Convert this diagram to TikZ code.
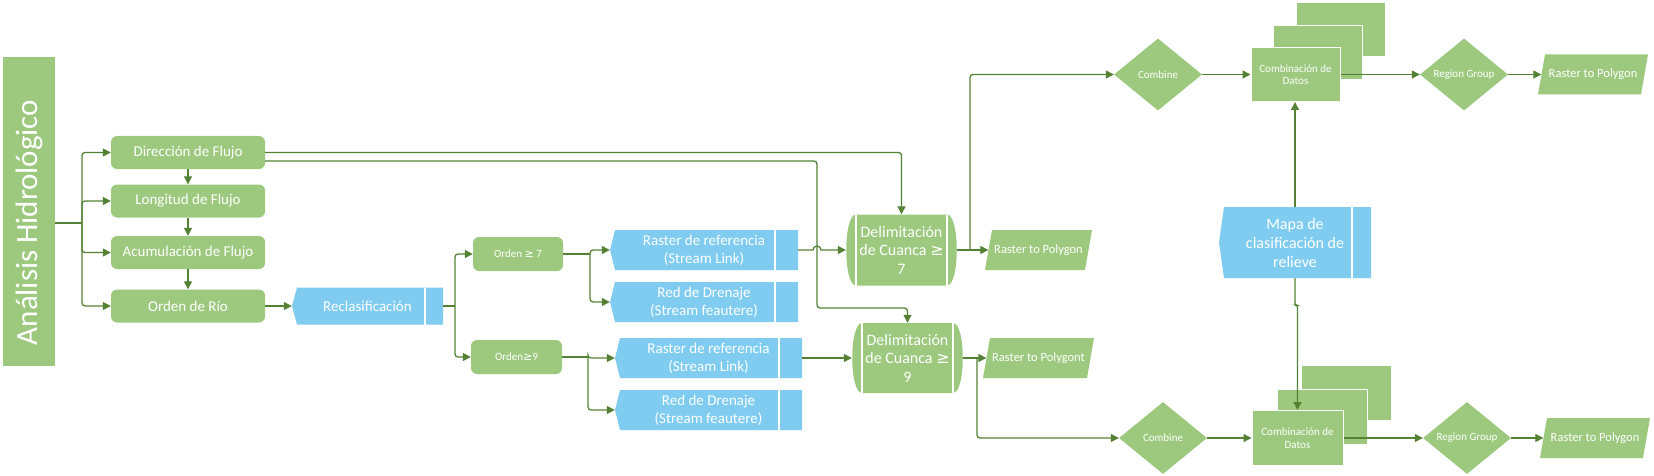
\documentclass[tikz,border=0pt]{standalone}
\usepackage{fontspec}
\usepackage{graphicx}
\setmainfont{Carlito}
\newfontfamily\symf{DejaVu Sans}
\usetikzlibrary{arrows.meta,shapes.geometric,calc}
\definecolor{gfill}{HTML}{9DC97F}
\definecolor{bfill}{HTML}{80CCF0}
\definecolor{lcol}{HTML}{548235}
\newcommand{\gsym}{{\symf ≥}}
\tikzset{
  gbox/.style={rectangle, rounded corners=6pt, fill=gfill, text=white, inner sep=0pt, align=center},
  bluebox/.style={rectangle, inner sep=0pt, text=white, align=center,
    path picture={
      \fill[bfill] ($(path picture bounding box.north west)+(5pt,0pt)$) -- (path picture bounding box.north east)
        -- (path picture bounding box.south east) -- ($(path picture bounding box.south west)+(5pt,0pt)$)
        -- (path picture bounding box.west) -- cycle;
      \draw[white, line width=1.2pt] ($(path picture bounding box.north east)+(-#1,0pt)$) -- ($(path picture bounding box.south east)+(-#1,0pt)$);
    }},
  delimbox/.style={rectangle, inner sep=0pt, text=white, align=center,
    font=\fontsize{16}{18.5}\selectfont,
    path picture={
      \fill[gfill] ($(path picture bounding box.north west)+(10pt,0pt)$) -- ($(path picture bounding box.north east)+(-10pt,0pt)$)
        .. controls ($(path picture bounding box.north east)+(3pt,0pt)$) and ($(path picture bounding box.south east)+(3pt,0pt)$) ..
        ($(path picture bounding box.south east)+(-10pt,0pt)$) -- ($(path picture bounding box.south west)+(10pt,0pt)$)
        .. controls ($(path picture bounding box.south west)+(-3pt,0pt)$) and ($(path picture bounding box.north west)+(-3pt,0pt)$) ..
        ($(path picture bounding box.north west)+(10pt,0pt)$) -- cycle;
      \draw[white, line width=1.2pt] ($(path picture bounding box.north west)+(10pt,0pt)$) -- ($(path picture bounding box.south west)+(10pt,0pt)$);
      \draw[white, line width=1.2pt] ($(path picture bounding box.north east)+(-10pt,0pt)$) -- ($(path picture bounding box.south east)+(-10pt,0pt)$);
    }},
  parabox/.style={rectangle, inner sep=0pt, text=white, align=center,
    font=\fontsize{12.5}{15}\selectfont,
    path picture={
      \fill[gfill] (path picture bounding box.south west) -- ($(path picture bounding box.north west)+(7pt,0pt)$)
        -- (path picture bounding box.north east) -- ($(path picture bounding box.south east)+(-7pt,0pt)$) -- cycle;
    }},
  diam/.style={diamond, fill=gfill, text=white, inner sep=0pt, aspect=1.2,
    minimum width=88pt, minimum height=72pt, font=\fontsize{11}{13}\selectfont},
  stackbox/.style={rectangle, fill=gfill, draw=white, line width=1pt, text=white, inner sep=0pt,
    align=center, font=\fontsize{11}{12.5}\selectfont},
  conn/.style={draw=lcol, line width=1.3pt, rounded corners=3pt},
  arr/.style={conn, -{Triangle[length=8pt,width=8pt]}}
}
\begin{document}
\begin{tikzpicture}[x=1pt, y=-1pt, font=\fontsize{15}{18}\selectfont]
\useasboundingbox (0,0) rectangle (1654,476);

% left bar
\node[fill=gfill, text=white, minimum width=52pt, minimum height=309pt, inner sep=0pt,
      font=\fontsize{31}{36}\selectfont] (bar) at (29,211.5)
      {\rotatebox{90}{Análisis Hidrológico\hspace*{22pt}}};

% green process boxes
\node[gbox, minimum width=154pt, minimum height=33pt] (dir) at (188,152.5) {Dirección de Flujo};
\node[gbox, minimum width=154pt, minimum height=33pt] (long) at (188,201) {Longitud de Flujo};
\node[gbox, minimum width=154pt, minimum height=33pt] (acum) at (188,252.5) {Acumulación de Flujo};
\node[gbox, minimum width=154pt, minimum height=33pt] (orden) at (188,306) {Orden de Río};

% blue boxes
\node[bluebox=18pt, minimum width=151pt, minimum height=37pt] (recl) at (367.5,306) {Reclasificación};
\node[gbox, minimum width=90pt, minimum height=34pt, font=\fontsize{11}{13}\selectfont] (o7) at (518,254) {Orden \gsym\ 7};
\node[gbox, minimum width=91pt, minimum height=34pt, font=\fontsize{11}{13}\selectfont] (o9) at (516.5,357) {Orden\gsym 9};

\node[bluebox=23pt, minimum width=188pt, minimum height=40pt] (r1) at (704,250) {Raster de referencia\\(Stream Link)};
\node[bluebox=23pt, minimum width=188pt, minimum height=40pt] (red1) at (704,302) {Red de Drenaje\\(Stream feautere)};
\node[bluebox=23pt, minimum width=187pt, minimum height=40pt] (r2) at (708.5,358) {Raster de referencia\\(Stream Link)};
\node[bluebox=23pt, minimum width=187pt, minimum height=40pt] (red2) at (708.5,410) {Red de Drenaje\\(Stream feautere)};

% delimitation
\node[delimbox, minimum width=111pt, minimum height=71pt] (d7) at (901.5,250) {Delimitación\\de Cuanca \gsym\\7};
\node[delimbox, minimum width=111pt, minimum height=70pt] (d9) at (907.5,358) {Delimitación\\de Cuanca \gsym\\9};

% raster to polygon
\node[parabox, minimum width=107pt, minimum height=40pt] (rtp1) at (1038.5,250) {Raster to Polygon};
\node[parabox, minimum width=111pt, minimum height=40pt] (rtp2) at (1038.5,358) {Raster to Polygont};
\node[parabox, minimum width=110pt, minimum height=40pt] (rtp3) at (1593,74.5) {Raster to Polygon};
\node[parabox, minimum width=110pt, minimum height=40pt] (rtp4) at (1595,438) {Raster to Polygon};

% diamonds
\node[diam] (comb1) at (1158,74.5) {Combine};
\node[diam] (rg1) at (1464,74.5) {Region Group};
\node[diam] (comb2) at (1163,438) {Combine};
\node[diam] (rg2) at (1467,438) {Region Group};

% stacked data boxes
\node[stackbox, minimum width=89pt, minimum height=54pt] (cd1b) at (1340.5,29.5) {};
\node[stackbox, minimum width=89pt, minimum height=54pt] (cd1a) at (1317.5,52.5) {};
\node[stackbox, minimum width=89pt, minimum height=54pt] (cd1) at (1295.5,74.5) {Combinación de\\Datos};
\node[stackbox, minimum width=90pt, minimum height=55pt] (cd2b) at (1346.5,393) {};
\node[stackbox, minimum width=90pt, minimum height=55pt] (cd2a) at (1322.5,417) {};
\node[stackbox, minimum width=91pt, minimum height=55pt] (cd2) at (1297.5,438) {Combinación de\\Datos};

% relief map
\node[bluebox=19pt, minimum width=152pt, minimum height=71pt, font=\fontsize{16}{19}\selectfont] (mapa) at (1295,242.5) {Mapa de\\clasificación de\\relieve};

% ---------- connectors ----------
\coordinate (j0) at (82,223);
\draw[conn] (bar.east |- j0) -- (j0);
\draw[arr] (j0) |- (dir.west);
\draw[arr] (j0) |- (long.west);
\draw[arr] (j0) |- (acum.west);
\draw[arr] (j0) |- (orden.west);
\draw[arr] (dir.south) -- (long.north);
\draw[arr] (long.south) -- (acum.north);
\draw[arr] (acum.south) -- (orden.north);
\draw[arr] (orden.east) -- (recl.west);

\coordinate (jr) at (455,306);
\draw[conn] (recl.east) -- (jr);
\draw[arr] (jr) |- (o7.west);
\draw[arr] (jr) |- (o9.west);

\coordinate (j7) at (590,254);
\draw[conn] (o7.east) -- (j7);
\draw[arr] (j7) |- (r1.west);
\draw[arr] (j7) |- (red1.west);

\coordinate (j9) at (588,357);
\draw[conn] (o9.east) -- (j9);
\draw[arr] (j9) |- (r2.west);
\draw[arr] (j9) |- (red2.west);

\draw[arr, sharp corners] (r1.east) -- (813,250) arc[start angle=180, end angle=360, radius=4] -- (d7.west);
\draw[arr] (r2.east) -- (d9.west);

\coordinate (w1) at (817,308);
\draw[arr] (dir.east) -| (d7.north);
\draw[arr] ([yshift=-8.5pt]dir.east) -| (w1) -| (d9.north);

\draw[arr] (d7.east) -- ([xshift=3.5pt]rtp1.west);
\draw[arr] (d9.east) -- ([xshift=3.5pt]rtp2.west);
\coordinate (jd7) at (970,250);
\coordinate (jd9) at (977,358);
\draw[arr] (jd7) |- (comb1.west);
\draw[arr] (jd9) |- (comb2.west);

\draw[arr] (comb1.east) -- (cd1.west);
\draw[arr] (cd1.east) -- (rg1.west);
\draw[arr] (rg1.east) -- ([xshift=3.5pt]rtp3.west);
\draw[arr] (comb2.east) -- (cd2.west);
\draw[arr] (cd2.east) -- (rg2.west);
\draw[arr] (rg2.east) -- ([xshift=3.5pt]rtp4.west);

\draw[arr] (mapa.north) -- (mapa.north |- cd1.south);
\draw[arr, rounded corners=2pt] (mapa.south) -- ++(0,27) -| (cd2.north);
\end{tikzpicture}
\end{document}
